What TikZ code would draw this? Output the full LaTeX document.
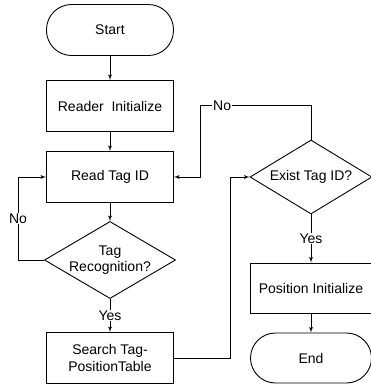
\documentclass[tikz,border=0pt]{standalone}
\usepackage{fontspec}
\setmainfont{Liberation Sans}
\usetikzlibrary{%
  positioning
 ,arrows
 ,calc
 ,shapes
}
\tikzstyle{term}=[rectangle,draw,rounded corners=25pt,minimum width=127pt,minimum height=51pt,inner sep=2pt]
\tikzstyle{proc}=[rectangle,draw,minimum width=127pt,minimum height=51pt,inner sep=2pt,align=center]
\tikzstyle{dec}=[diamond,draw,aspect=1.7,inner sep=0pt,align=center]

\begin{document}
\begin{tikzpicture}[%
    on grid,line width=.9pt,
    font=\fontsize{14}{16.5}\selectfont,
    every edge/.style={draw,-latex'}]
  \tikzstyle{l} = [fill=white,inner sep=1pt]
  \useasboundingbox (0,0) rectangle (371pt,-384pt);
  % the left column
  \node[term](start) at (110pt,-30pt){Start};
  \node[proc,below=76pt of start](reader){Reader\ \ Initialize};
  \node[proc,below=71pt of reader](read){Read Tag ID};
  \node[dec,below=83pt of read,minimum width=126pt,minimum height=75pt](recog){Tag\\Recognition?};
  \node[proc,below=98pt of recog](search){Search Tag-\\PositionTable};
  % the right column
  \node[dec,right=201pt of read,minimum width=122pt,minimum height=74pt](exist){Exist Tag ID?};
  \node[proc,below=111pt of exist,minimum width=121pt,minimum height=50pt](pos){Position Initialize};
  \node[term,below=70pt of pos,minimum width=121pt,minimum height=50pt](end){End};
  % the arrows
  \draw (start)edge(reader) (reader)edge(read) (read)edge(recog)
    (recog)edge node[l]{Yes}(search)
    (exist)edge node[l]{Yes}(pos) (pos)edge(end);
  \draw[-latex'] (recog.west) -- ++(-26pt,0) |- node[l,pos=.25]{No} (read.west);
  \draw[-latex'] (search.east) -- ++(56pt,0) |- (exist.west);
  \draw[-latex'] (exist.north) -- ++(0,34pt) -| node[l,pos=.4]{No} ([xshift=26pt]read.east) -- (read.east);

\end{tikzpicture}
\end{document}
